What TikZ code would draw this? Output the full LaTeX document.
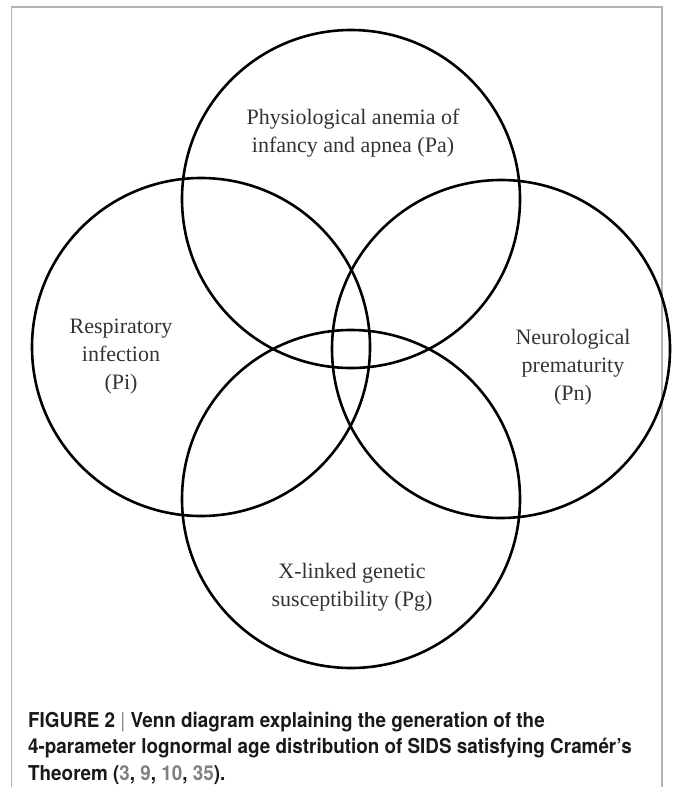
\documentclass[tikz,border=0pt]{standalone}
\usepackage{fontspec}
\setmainfont{Liberation Serif}
\newfontfamily\capfont[FakeStretch=0.92]{TeX Gyre Heros}
\usetikzlibrary{calc}
\definecolor{labelgray}{HTML}{333333}
\definecolor{framegray}{HTML}{B4B4B4}
\definecolor{refgray}{HTML}{808080}
\newcommand{\refno}[1]{\textcolor{refgray}{#1}}

\tikzset{
    venn/.style={circle, draw=black, line width=2.6pt, minimum size=338pt, inner sep=0pt},
    vennlabel/.style={align=center, text=labelgray, font=\fontsize{22}{28}\selectfont},
    capline/.style={anchor=base west, inner sep=0pt, text=black!90, font=\capfont\bfseries\fontsize{20.5}{26}\selectfont},
}

\begin{document}
\begin{tikzpicture}[x=1pt, y=-1pt]
    \useasboundingbox (0,0) rectangle (677,787);
    \def\l{150};

    % frame, open at the bottom
    \coordinate (fa) at (11.5,787);
    \coordinate (fb) at (11.5,7);
    \coordinate (fc) at (662,7);
    \coordinate (fd) at (662,787);
    \draw[framegray, line width=1.8pt] (fa) -- (fb) -- (fc) -- (fd);

    % the four sets
    \coordinate (M) at (351,349);
    \node[venn] (Pa) at ($(M)+(0,-\l)$) {};
    \node[venn] (Pi) at ($(M)+(-\l,-2)$) {};
    \node[venn] (Pn) at ($(M)+(\l,0)$) {};
    \node[venn] (Pg) at ($(M)+(0,\l)$) {};

    \node[vennlabel] (la) at (353,133) {Physiological anemia of\\infancy and apnea (Pa)};
    \node[vennlabel] (li) at (121,357) {Respiratory\\infection\\(Pi)};
    \node[vennlabel] (ln) at (573,367) {Neurological\\prematurity\\(Pn)};
    \node[vennlabel] (lg) at (352,587) {X-linked genetic\\susceptibility (Pg)};

    % caption
    \node[capline] (cap1) at (28,727) {FIGURE 2 {\mdseries\textcolor{refgray}{|}} Venn diagram explaining the generation of the};
    \node[capline] (cap2) at (28,753.5) {4-parameter lognormal age distribution of SIDS satisfying Cramér’s};
    \node[capline] (cap3) at (28,780) {Theorem (\refno{3}, \refno{9}, \refno{10}, \refno{35}).};
\end{tikzpicture}
\end{document}
